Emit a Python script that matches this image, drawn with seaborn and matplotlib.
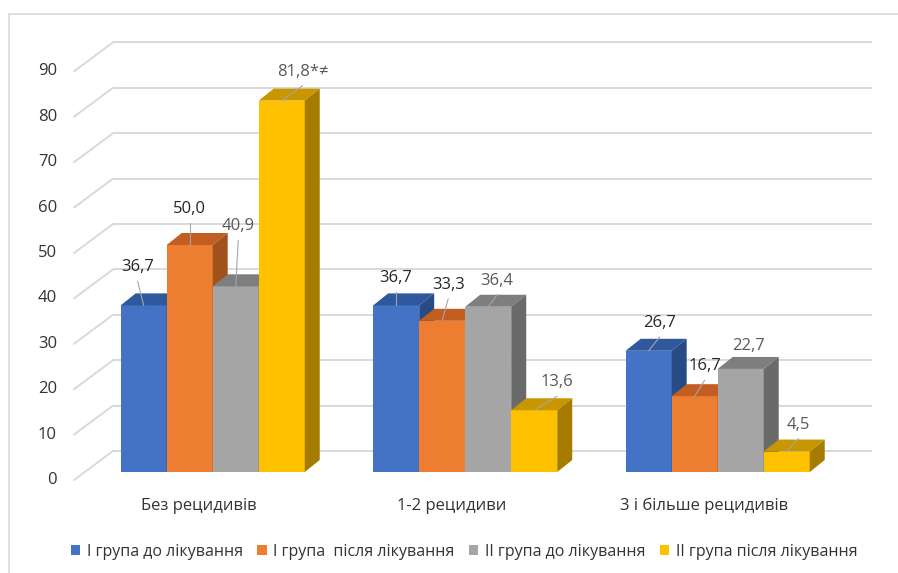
import numpy as np
import pandas as pd
import matplotlib
matplotlib.use("Agg")
import matplotlib.pyplot as plt
from matplotlib.patches import Polygon, Patch
from matplotlib.lines import Line2D
from matplotlib.transforms import offset_copy
import seaborn as sns

# ---- data -------------------------------------------------------------
categories = ["Без рецидивів", "1-2 рецидиви", "3 і більше рецидивів"]
series = ["І група до лікування", "І група  після лікування",
          "ІІ група до лікування", "ІІ група після лікування"]
group1_before = [36.7, 36.7, 26.7]
group1_after = [50.0, 33.3, 16.7]
group2_before = [40.9, 36.4, 22.7]
group2_after = [81.8, 13.6, 4.5]
# significance marks appended to value labels
group2_after_marks = ["*≠", "", ""]
yticks = list(range(0, 100, 10))

values = [group1_before, group1_after, group2_before, group2_after]
marks = [["", "", ""], ["", "", ""], ["", "", ""], group2_after_marks]

df = pd.DataFrame({
    "category": np.repeat([categories], len(series), axis=0).ravel(),
    "series": np.repeat(series, len(categories)),
    "value": np.concatenate(values),
})

# ---- style ------------------------------------------------------------
front_cols = ["#4472C4", "#ED7D31", "#A5A5A5", "#FFC000"]
top_cols = ["#30589C", "#C25E21", "#7E7E7E", "#C79600"]
side_cols = ["#284A85", "#A0511C", "#6A6A6A", "#A67C00"]
label_cols = ["#262626", "#262626", "#595959", "#595959"]
grid_col = "#D9D9D9"
text_col = "#333333"

# label offsets from the bar's front-top centre, in pixels (x right, y down)
label_offsets = [
    [(-6, -38), (0, -27), (11, -28)],
    [(0, -36), (6, -36), (10, -30)],
    [(2.5, -60), (9, -26), (8, -23)],
    [(21, -29), (23, -28), (12, -27)],
]

sns.set_theme(style="white")
plt.rcParams["font.family"] = ["Open Sans", "DejaVu Sans"]

W, H, DPI = 898, 573, 100
fig = plt.figure(figsize=(W / DPI, H / DPI), dpi=DPI)
fig.patch.set_facecolor("white")

# plot area: front plane of the bars
ax_left, ax_bottom, ax_right, ax_top = 86.45, 472.0, 843.95, 63.4
ax = fig.add_axes([ax_left / W, 1 - ax_bottom / H,
                   (ax_right - ax_left) / W, (ax_bottom - ax_top) / H])
ax.set_xlim(-0.5, 2.5)
ax.set_ylim(0, 90)
ax.axis("off")

px_x = (ax_right - ax_left) / 3.0      # pixels per category unit
px_y = (ax_bottom - ax_top) / 90.0     # pixels per value unit


def dx(p):
    return p / px_x


def dy(p):
    return p / px_y


sns.barplot(data=df, x="category", y="value", hue="series",
            order=categories, hue_order=series, palette=front_cols,
            width=0.729, gap=0, saturation=1, legend=False,
            linewidth=0, ax=ax, zorder=2)

# ---- chart frame -----------------------------------------------------
fig.add_artist(Line2D([9 / W, 1.0], [1 - 14 / H, 1 - 14 / H],
                      transform=fig.transFigure, color=grid_col, lw=1.2))
fig.add_artist(Line2D([9 / W, 9 / W], [1 - 14 / H, 0.0],
                      transform=fig.transFigure, color=grid_col, lw=1.2))

# ---- back wall gridlines and side-wall diagonals -----------------------
wall_x0 = dx(113 - ax_left) - 0.5
wall_x1 = dx(872 - ax_left) - 0.5
front_x = dx(74 - ax_left) - 0.5
wall_up = dy(21)
front_down = dy(8)
for v in yticks:
    ax.plot([wall_x0, wall_x1], [v + wall_up, v + wall_up], color=grid_col,
            lw=1.4, zorder=0.5, clip_on=False, solid_capstyle="butt")
    ax.plot([front_x, wall_x0], [v - front_down, v + wall_up], color=grid_col,
            lw=1.4, zorder=0.5, clip_on=False)
    ax.text(front_x, v - front_down, str(v), ha="right", va="center",
            fontsize=12, color=text_col,
            transform=offset_copy(ax.transData, fig=fig, x=-17, y=0,
                                  units="dots"))

# ---- 3D faces of the bars ------------------------------------------------
DX, DY = dx(15), dy(12)
for j, cont in enumerate(ax.containers):
    for i, bar in enumerate(cont.patches):
        x0, w, h = bar.get_x(), bar.get_width(), bar.get_height()
        z = 2 + j * 0.1
        bar.set_zorder(z)
        top = Polygon([(x0, h), (x0 + w, h), (x0 + w + DX, h + DY),
                       (x0 + DX, h + DY)], closed=True,
                      facecolor=top_cols[j], edgecolor="none",
                      zorder=z + 0.01, clip_on=False)
        side = Polygon([(x0 + w, 0), (x0 + w + DX, DY), (x0 + w + DX, h + DY),
                        (x0 + w, h)], closed=True, facecolor=side_cols[j],
                       edgecolor="none", zorder=z + 0.01, clip_on=False)
        ax.add_patch(top)
        ax.add_patch(side)

        # value label with leader line
        v = values[j][i]
        txt = f"{v:.1f}".replace(".", ",") + marks[j][i]
        ox, oy = label_offsets[j][i]
        cx = x0 + w / 2
        tx, ty = cx + dx(ox), h - dy(oy)
        ax.text(tx, ty, txt, ha="center", va="center", fontsize=12,
                color=label_cols[j], zorder=10, clip_on=False)
        start_y = ty - dy(14)
        if (start_y - h) * px_y >= 10:
            ax.plot([tx, cx], [start_y, h], color="#A6A6A6", lw=0.8,
                    zorder=9, clip_on=False)

# ---- category labels -------------------------------------------------------
for i, cat in enumerate(categories):
    ax.text(i + dx(-14), -dy(34), cat, ha="center", va="center",
            fontsize=12, color=text_col, clip_on=False)

# ---- legend ---------------------------------------------------------------
handles = [Patch(facecolor=c, edgecolor="none", label=s)
           for c, s in zip(front_cols, series)]
leg = fig.legend(handles=handles, loc="center", ncol=4,
                 bbox_to_anchor=(464 / W, 1 - 551.7 / H), frameon=False,
                 fontsize=11.5, handlelength=0.6, handleheight=0.6,
                 handletextpad=0.4, columnspacing=0.9, labelcolor=text_col)

fig.savefig("out.png", dpi=DPI)
